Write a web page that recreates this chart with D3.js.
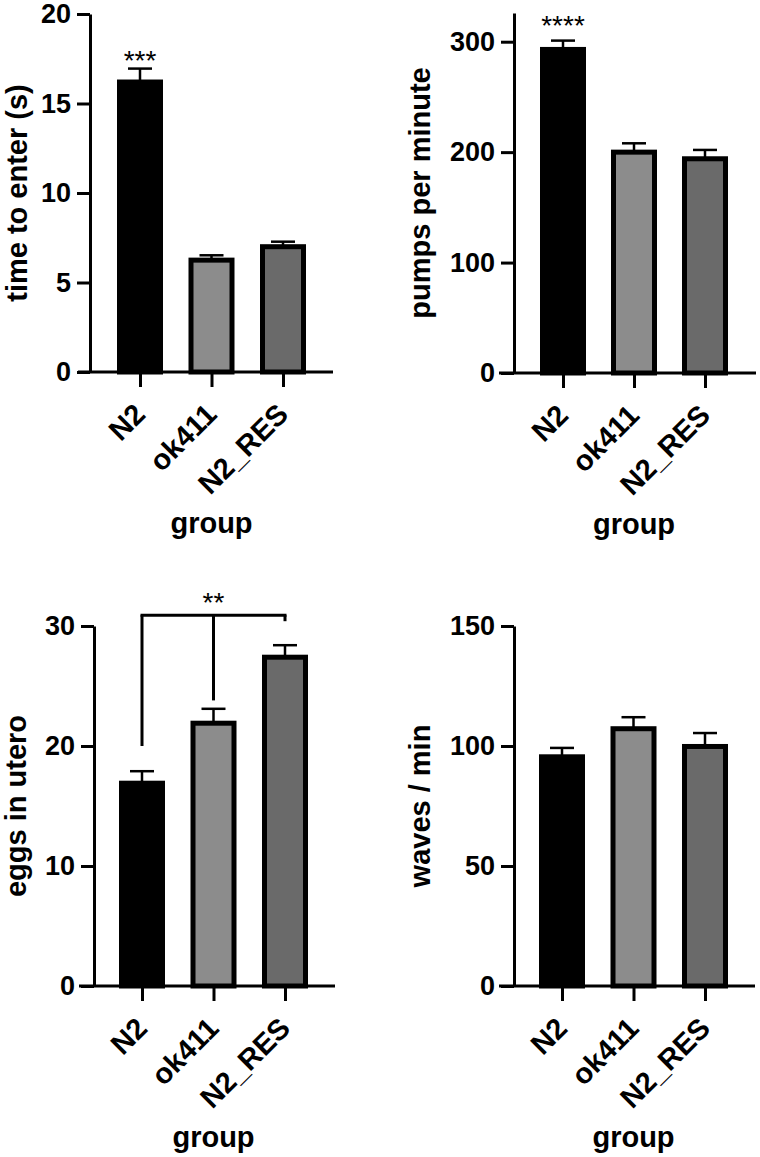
<!DOCTYPE html>
<html>
<head>
<meta charset="utf-8">
<script src="https://cdn.jsdelivr.net/npm/d3@7"></script>
<style>
  html, body { margin: 0; padding: 0; background: #ffffff; }
  svg { display: block; }
  text { font-family: "Liberation Sans", Arial, sans-serif; }
</style>
</head>
<body>
<svg id="chart" width="760" height="1157"></svg>
<script>
// ---------------- DATA ----------------
const groups = ["N2", "ok411", "N2_RES"];

const timeToEnterMean = [16.2, 6.25, 7.0];
const timeToEnterSem  = [0.75, 0.27, 0.28];
const timeToEnterTicks = [0, 5, 10, 15, 20];
const timeToEnterMax = 20;

const pumpsMean = [293, 200, 194];
const pumpsSem  = [8, 8, 8];
const pumpsTicks = [0, 100, 200, 300];
const pumpsMax = 326;

const eggsMean = [16.9, 21.9, 27.4];
const eggsSem  = [1.0, 1.2, 1.0];
const eggsTicks = [0, 10, 20, 30];
const eggsMax = 30;

const wavesMean = [95.5, 107.2, 99.8];
const wavesSem  = [3.7, 4.8, 5.6];
const wavesTicks = [0, 50, 100, 150];
const wavesMax = 150;

// significance annotations
const timeSig = { group: "N2", label: "***" };
const pumpsSig = { group: "N2", label: "****" };
const eggsBracket = { label: "**", top: 30.9, legs: [["N2", 20], ["ok411", 23.8], ["N2_RES", 30.4]] };

// ---------------- STYLE / LAYOUT ----------------
const fills = ["#000000", "#8c8c8c", "#6a6a6a"];
const FONT_TICK = 27, FONT_TITLE = 29;

const svg = d3.select("#chart");
svg.append("rect").attr("width", 760).attr("height", 1157).attr("fill", "#fff");

function panel(cfg) {
  const g = svg.append("g");
  const y = d3.scaleLinear().domain([0, cfg.max]).range([cfg.y0, cfg.y1]);
  const x = d3.scalePoint().domain(groups).range([cfg.ax + cfg.firstOff, cfg.ax + cfg.firstOff + 2 * cfg.step]);
  const barW = 41;

  // error bars
  const eb = g.append("g");
  groups.forEach((grp, i) => {
    const cx = x(grp);
    const top = y(cfg.mean[i] + cfg.sem[i]);
    eb.append("line").attr("x1", cx).attr("x2", cx).attr("y1", y(cfg.mean[i])).attr("y2", top)
      .attr("stroke", "#000").attr("stroke-width", 2.5);
    eb.append("line").attr("x1", cx - 12).attr("x2", cx + 12).attr("y1", top).attr("y2", top)
      .attr("stroke", "#000").attr("stroke-width", 2.5);
  });

  // bars
  g.selectAll("rect.bar").data(groups).enter().append("rect")
    .attr("class", "bar")
    .attr("x", d => x(d) - barW / 2)
    .attr("width", barW)
    .attr("y", (d, i) => y(cfg.mean[i]))
    .attr("height", (d, i) => y(0) - y(cfg.mean[i]))
    .attr("fill", (d, i) => fills[i])
    .attr("stroke", "#000")
    .attr("stroke-width", 5);

  // y axis
  const yAxis = d3.axisLeft(y).tickValues(cfg.ticks).tickSize(13).tickSizeOuter(0).tickPadding(6);
  const ya = g.append("g").attr("transform", `translate(${cfg.ax},0)`).call(yAxis);
  ya.select(".domain").attr("stroke-width", 3).attr("stroke", "#000");
  ya.selectAll(".tick line").attr("stroke-width", 3).attr("stroke", "#000");
  ya.selectAll(".tick text").attr("font-size", FONT_TICK).attr("font-weight", "bold")
    .attr("fill", "#000").attr("font-family", "Liberation Sans, Arial, sans-serif");

  // x axis
  g.append("line").attr("x1", cfg.xStart).attr("x2", cfg.xEnd).attr("y1", y(0)).attr("y2", y(0))
    .attr("stroke", "#000").attr("stroke-width", 3);
  const xAxis = d3.axisBottom(x).tickSize(15).tickSizeOuter(0).tickFormat("");
  const xa = g.append("g").attr("transform", `translate(0,${y(0)})`).call(xAxis);
  xa.select(".domain").remove();
  xa.selectAll(".tick line").attr("stroke-width", 3).attr("stroke", "#000");

  // category labels
  groups.forEach(grp => {
    g.append("text")
      .attr("transform", `translate(${x(grp) + 7},${y(0) + 44}) rotate(-45)`)
      .attr("text-anchor", "end")
      .attr("font-size", FONT_TITLE).attr("font-weight", "bold")
      .text(grp);
  });

  // x title
  g.append("text").attr("x", x(groups[1])).attr("y", y(0) + 161)
    .attr("text-anchor", "middle").attr("font-size", FONT_TITLE).attr("font-weight", "bold")
    .text("group");

  // y title
  g.append("text")
    .attr("transform", `translate(${cfg.titleX},${(cfg.y0 + cfg.y1) / 2}) rotate(-90)`)
    .attr("text-anchor", "middle").attr("font-size", FONT_TITLE).attr("font-weight", "bold")
    .text(cfg.title);

  return { g, x, y };
}

// Panel 1
const p1 = panel({ ax: 90, y0: 372, y1: 14, max: timeToEnterMax, ticks: timeToEnterTicks,
  firstOff: 50, step: 71.5, xStart: 78, xEnd: 333, mean: timeToEnterMean, sem: timeToEnterSem,
  title: "time to enter (s)", titleX: 27 });
{
  const i = groups.indexOf(timeSig.group);
  p1.g.append("text").attr("x", p1.x(timeSig.group))
    .attr("y", p1.y(timeToEnterMean[i] + timeToEnterSem[i]) + 1)
    .attr("text-anchor", "middle").attr("font-size", 28).text(timeSig.label);
}

// Panel 2
const p2 = panel({ ax: 514, y0: 373, y1: 13, max: pumpsMax, ticks: pumpsTicks,
  firstOff: 49, step: 71, xStart: 499, xEnd: 756, mean: pumpsMean, sem: pumpsSem,
  title: "pumps per minute", titleX: 430 });
{
  const i = groups.indexOf(pumpsSig.group);
  p2.g.append("text").attr("x", p2.x(pumpsSig.group))
    .attr("y", p2.y(pumpsMean[i] + pumpsSem[i]) - 5.5)
    .attr("text-anchor", "middle").attr("font-size", 28).text(pumpsSig.label);
}

// Panel 3
const p3 = panel({ ax: 94, y0: 986, y1: 626, max: eggsMax, ticks: eggsTicks,
  firstOff: 48, step: 71.5, xStart: 79, xEnd: 335, mean: eggsMean, sem: eggsSem,
  title: "eggs in utero", titleX: 26 });
{
  const yTop = p3.y(eggsBracket.top);
  const xs = eggsBracket.legs.map(l => p3.x(l[0]));
  p3.g.append("line").attr("x1", d3.min(xs)).attr("x2", d3.max(xs)).attr("y1", yTop).attr("y2", yTop)
    .attr("stroke", "#000").attr("stroke-width", 3).attr("stroke-linecap", "square");
  eggsBracket.legs.forEach(l => {
    p3.g.append("line").attr("x1", p3.x(l[0])).attr("x2", p3.x(l[0]))
      .attr("y1", yTop).attr("y2", p3.y(l[1]))
      .attr("stroke", "#000").attr("stroke-width", 3);
  });
  p3.g.append("text").attr("x", p3.x(groups[1])).attr("y", yTop - 3)
    .attr("text-anchor", "middle").attr("font-size", 28).text(eggsBracket.label);
}

// Panel 4
const p4 = panel({ ax: 514, y0: 986, y1: 626, max: wavesMax, ticks: wavesTicks,
  firstOff: 48, step: 71.5, xStart: 499, xEnd: 755, mean: wavesMean, sem: wavesSem,
  title: "waves / min", titleX: 430 });
</script>
</body>
</html>
